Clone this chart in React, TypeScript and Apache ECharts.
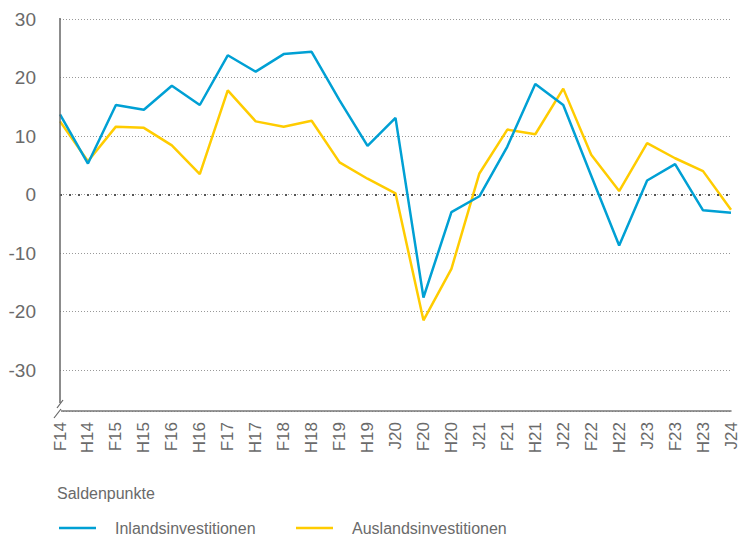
import React, { useEffect, useRef } from "react";
import * as echarts from "echarts";

const categories = [
  "F14", "H14", "F15", "H15", "F16", "H16", "F17", "H17", "F18", "H18",
  "F19", "H19", "J20", "F20", "H20", "J21", "F21", "H21", "J22", "F22",
  "H22", "J23", "F23", "H23", "J24",
];

const inlands = [
  13.7, 5.3, 15.3, 14.5, 18.6, 15.3, 23.8, 21.0, 24.0, 24.4,
  16.1, 8.3, 13.1, -17.6, -3.0, -0.3, 8.2, 18.9, 15.3, 3.2,
  -8.7, 2.4, 5.2, -2.7, -3.1,
];

const auslands = [
  12.5, 5.7, 11.6, 11.4, 8.4, 3.5, 17.8, 12.5, 11.6, 12.6,
  5.5, 2.7, 0.2, -21.5, -12.7, 3.6, 11.1, 10.3, 18.1, 6.8,
  0.6, 8.8, 6.2, 4.0, -2.6,
];

const seriesNames = ["Inlandsinvestitionen", "Auslandsinvestitionen"];
const yMin = -37;
const yMax = 30;
const unitLabel = "Saldenpunkte";

const BLUE = "#00a0d4";
const YELLOW = "#ffcc00";
const GRAY = "#6a6a6a";
const FONT = "Liberation Sans, Arial, sans-serif";

export default function App() {
  const ref = useRef<HTMLDivElement>(null);

  useEffect(() => {
    if (!ref.current) return;
    const chart = echarts.init(ref.current, undefined, { renderer: "svg" });
    const gridLeft = 60;
    const gridTop = 19;
    const gridBottom = 411;
    const legendText = {
      fontFamily: FONT,
      fontSize: 16,
      color: GRAY,
      padding: [0, 0, 0, 14],
      lineHeight: 20,
    };
    chart.setOption({
      animation: false,
      textStyle: { fontFamily: FONT },
      grid: { left: gridLeft, top: gridTop, right: 14, height: gridBottom - gridTop },
      title: {
        text: unitLabel,
        left: 57,
        top: 485,
        padding: 0,
        textStyle: { fontFamily: FONT, fontSize: 16, fontWeight: "normal", color: GRAY },
      },
      legend: [
        {
          data: [seriesNames[0]],
          left: 59,
          top: 518,
          padding: 0,
          icon: "rect",
          itemWidth: 37,
          itemHeight: 2.5,
          textStyle: legendText,
        },
        {
          data: [seriesNames[1]],
          left: 296,
          top: 518,
          padding: 0,
          icon: "rect",
          itemWidth: 37,
          itemHeight: 2.5,
          textStyle: legendText,
        },
      ],
      xAxis: {
        type: "category",
        data: categories,
        boundaryGap: false,
        axisLine: { show: true, onZero: false, lineStyle: { color: "#777", width: 1.5 } },
        axisTick: { show: false },
        axisLabel: {
          rotate: 90,
          interval: 0,
          margin: 11,
          fontSize: 17,
          color: GRAY,
          fontFamily: FONT,
        },
        splitLine: { show: false },
      },
      yAxis: {
        type: "value",
        min: yMin,
        max: yMax,
        splitNumber: 7,
        axisLine: { show: false },
        axisTick: { show: false },
        axisLabel: {
          fontSize: 19,
          color: GRAY,
          margin: 24,
          fontFamily: FONT,
          showMinLabel: false,
          formatter: (v: number) => (v === yMin ? "" : String(v)),
        },
        splitLine: {
          show: true,
          lineStyle: { color: "#999", type: [1, 2], width: 1 },
        },
      },
      graphic: [
        {
          type: "line",
          shape: { x1: gridLeft, y1: gridTop - 1, x2: gridLeft, y2: gridBottom - 8 },
          style: { stroke: "#666", lineWidth: 1.5 },
          z: 10,
        },
        {
          type: "line",
          shape: { x1: 57, y1: 408, x2: 63, y2: 400 },
          style: { stroke: "#666", lineWidth: 1.2 },
          z: 10,
        },
        {
          type: "line",
          shape: { x1: 54, y1: 418, x2: 61, y2: 409 },
          style: { stroke: "#666", lineWidth: 1.2 },
          z: 10,
        },
        {
          type: "rect",
          shape: { x: gridLeft - 1, y: gridBottom - 2, width: 2, height: 4 },
          style: { fill: "#fff" },
          z: 9,
        },
      ],
      series: [
        {
          name: seriesNames[0],
          type: "line",
          data: inlands,
          symbol: "none",
          lineStyle: { color: BLUE, width: 2.5 },
          itemStyle: { color: BLUE },
          z: 3,
          markLine: {
            silent: true,
            symbol: "none",
            label: { show: false },
            lineStyle: { color: "#555", type: [2, 7], width: 2 },
            data: [{ yAxis: 0 }],
          },
        },
        {
          name: seriesNames[1],
          type: "line",
          data: auslands,
          symbol: "none",
          lineStyle: { color: YELLOW, width: 2.5 },
          itemStyle: { color: YELLOW },
          z: 2,
        },
      ],
    });
    return () => chart.dispose();
  }, []);

  return <div ref={ref} style={{ width: 745, height: 536, position: "absolute", left: 0, top: 0 }} />;
}
